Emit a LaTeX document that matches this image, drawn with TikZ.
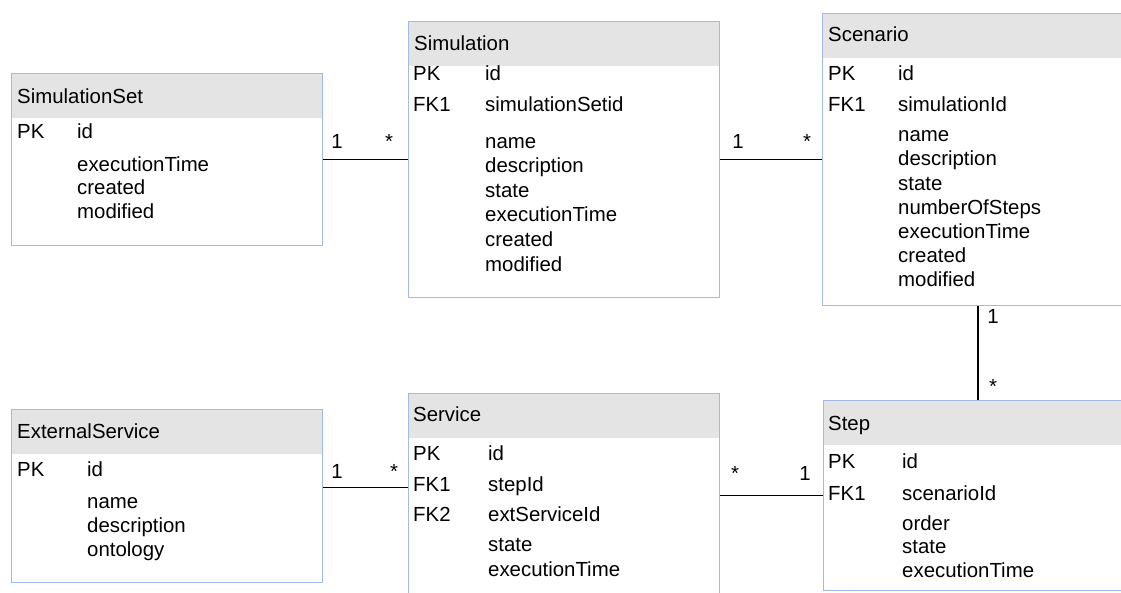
\documentclass[tikz,border=0pt]{standalone}
\usepackage{fontspec}
\setmainfont{Liberation Sans}
\usepackage{tikz}
\definecolor{BoxBlue}{RGB}{160,188,230}
\definecolor{HeadGray}{RGB}{228,228,228}

\begin{document}
\begin{tikzpicture}[x=1pt,y=-1pt,
    tblhead/.style={fill=HeadGray,minimum width=311pt,minimum height=45pt,anchor=north west,inner sep=0pt},
    tblbox/.style={draw=BoxBlue,line width=1.3pt,minimum width=311pt,anchor=north west,inner sep=0pt},
    txt/.style={anchor=base west,inner sep=0pt,font=\fontsize{20.4}{24}\selectfont},
    mult/.style={anchor=base,inner sep=0pt,font=\fontsize{20.4}{24}\selectfont},
    rel/.style={line width=1.6pt}]
  \useasboundingbox (0,0) rectangle (1121,592);
  \clip (0,0) rectangle (1121,592);

  % SimulationSet
  \node[tblhead] (sethead) at (11,73) {};
  \node[tblbox,minimum height=172pt] (setbox) at (11,73) {};
  \node[txt] (settitle) at (17,103.5) {SimulationSet};
  \node[txt] (setpk) at (17,138) {PK};
  \node[txt] (setid) at (77,138) {id};
  \foreach \f [count=\i from 0] in {executionTime,created,modified}
    \node[txt] (setf\i) at (77,{171+23.5*\i}) {\f};

  % Simulation
  \node[tblhead] (simhead) at (408,21) {};
  \node[tblbox,minimum height=276pt] (simbox) at (408,21) {};
  \node[txt] (simtitle) at (414,50.7) {Simulation};
  \node[txt] (simpk) at (413,80) {PK};
  \node[txt] (simid) at (485,80) {id};
  \node[txt] (simfk) at (413,111.7) {FK1};
  \node[txt] (simsetid) at (485,111.7) {simulationSetid};
  \foreach \f [count=\i from 0] in {name,description,state,executionTime,created,modified}
    \node[txt] (simf\i) at (485,{148+24.6*\i}) {\f};

  % Scenario
  \node[tblhead] (scenhead) at (822,13) {};
  \node[tblbox,minimum height=292pt] (scenbox) at (822,13) {};
  \node[txt] (scentitle) at (828,41.7) {Scenario};
  \node[txt] (scenpk) at (828,80) {PK};
  \node[txt] (scenid) at (898,80) {id};
  \node[txt] (scenfk) at (828,111.7) {FK1};
  \node[txt] (scensimid) at (898,111.7) {simulationId};
  \foreach \f [count=\i from 0] in {name,description,state,numberOfSteps,executionTime,created,modified}
    \node[txt] (scenf\i) at (898,{141.7+24.2*\i}) {\f};

  % ExternalService
  \node[tblhead] (exthead) at (11,409) {};
  \node[tblbox,minimum height=173pt] (extbox) at (11,409) {};
  \node[txt] (exttitle) at (17,438.3) {ExternalService};
  \node[txt] (extpk) at (17,476.7) {PK};
  \node[txt] (extid) at (87,476.7) {id};
  \foreach \f [count=\i from 0] in {name,description,ontology}
    \node[txt] (extf\i) at (87,{508.3+24.3*\i}) {\f};

  % Service
  \node[tblhead] (svchead) at (408,393) {};
  \node[tblbox,minimum height=215pt] (svcbox) at (408,393) {};
  \node[txt] (svctitle) at (413,421.7) {Service};
  \node[txt] (svcpk) at (413,460) {PK};
  \node[txt] (svcid) at (488,460) {id};
  \node[txt] (svcfka) at (413,491.7) {FK1};
  \node[txt] (svcstepid) at (488,491.7) {stepId};
  \node[txt] (svcfkb) at (413,521.7) {FK2};
  \node[txt] (svcextid) at (488,521.7) {extServiceId};
  \foreach \f [count=\i from 0] in {state,executionTime}
    \node[txt] (svcf\i) at (488,{551.7+25*\i}) {\f};

  % Step
  \node[tblhead] (stephead) at (823,400) {};
  \node[tblbox,minimum height=190pt] (stepbox) at (823,400) {};
  \node[txt] (steptitle) at (828,430) {Step};
  \node[txt] (steppk) at (828,468) {PK};
  \node[txt] (stepid) at (902,468) {id};
  \node[txt] (stepfk) at (828,500) {FK1};
  \node[txt] (stepscenid) at (902,500) {scenarioId};
  \foreach \f [count=\i from 0] in {order,state,executionTime}
    \node[txt] (stepf\i) at (902,{530.7+23.2*\i}) {\f};

  % relations
  \draw[rel] (setbox.east) -- (simbox.west |- setbox.east);
  \node[mult] (m1a) at (337,148) {1};
  \node[mult] (m1b) at (389,148) {*};
  \draw[rel] (simbox.east) -- (scenbox.west |- simbox.east);
  \node[mult] (m2a) at (738,148) {1};
  \node[mult] (m2b) at (807,148) {*};
  \draw[rel] (scenbox.south) -- (scenbox.south |- stepbox.north);
  \node[mult] (m3a) at (993,323) {1};
  \node[mult] (m3b) at (993,393.5) {*};
  \draw[rel] ([yshift=8.5pt]extbox.east) coordinate (extlink) -- (extlink -| svcbox.west);
  \node[mult] (m4a) at (337,478) {1};
  \node[mult] (m4b) at (394,478) {*};
  \draw[rel] (stepbox.west) -- (stepbox.west -| svcbox.east);
  \node[mult] (m5a) at (735,480) {*};
  \node[mult] (m5b) at (805,480) {1};
\end{tikzpicture}
\end{document}
